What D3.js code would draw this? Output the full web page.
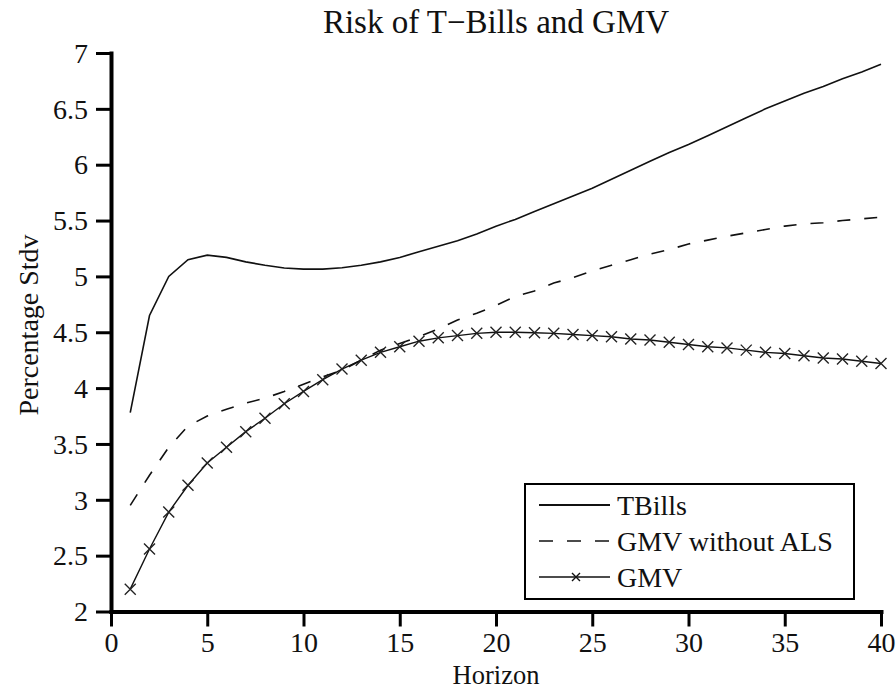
<!DOCTYPE html>
<html>
<head>
<meta charset="utf-8">
<script src="https://cdn.jsdelivr.net/npm/d3@7"></script>
<style>
	body { margin: 0; background: white; }
	svg text { font-family: "Liberation Serif", "DejaVu Serif", serif; fill: #111; }
</style>
</head>
<body>
<div id="chart"></div>
<script>

// Data. Horizon 1..40.
let horizon = d3.range(1, 41);

let tbills = [
	3.78, 4.65, 5.00, 5.15, 5.19, 5.17, 5.13, 5.10, 5.075, 5.065,
	5.065, 5.077, 5.10, 5.13, 5.17, 5.22, 5.27, 5.32, 5.38, 5.45,
	5.51, 5.58, 5.65, 5.72, 5.79, 5.87, 5.95, 6.03, 6.11, 6.18,
	6.26, 6.34, 6.42, 6.50, 6.57, 6.64, 6.70, 6.77, 6.83, 6.90
];

let gmvnoals = [
	2.95, 3.22, 3.47, 3.66, 3.75, 3.81, 3.865, 3.91, 3.97, 4.035,
	4.10, 4.16, 4.25, 4.34, 4.40, 4.46, 4.53, 4.61, 4.67, 4.74,
	4.82, 4.87, 4.94, 4.99, 5.05, 5.10, 5.15, 5.20, 5.24, 5.29,
	5.325, 5.36, 5.39, 5.42, 5.45, 5.47, 5.48, 5.50, 5.515, 5.53
];

let gmv = [
	2.20, 2.56, 2.89, 3.13, 3.33, 3.47, 3.61, 3.73, 3.86, 3.97,
	4.075, 4.17, 4.25, 4.32, 4.37, 4.42, 4.45, 4.47, 4.49, 4.50,
	4.50, 4.495, 4.49, 4.48, 4.47, 4.46, 4.44, 4.43, 4.41, 4.39,
	4.37, 4.36, 4.34, 4.32, 4.31, 4.29, 4.27, 4.26, 4.24, 4.22
];

let xticks = [0, 5, 10, 15, 20, 25, 30, 35, 40];
let yticks = [2, 2.5, 3, 3.5, 4, 4.5, 5, 5.5, 6, 6.5, 7];

let seriesnames = ["TBills", "GMV without ALS", "GMV"];
let titletext = "Risk of T\u2212Bills and GMV";
let xlabeltext = "Horizon";
let ylabeltext = "Percentage Stdv";



let width = 896;
let height = 690;

let svg = d3.select("#chart")
  .append("svg")
	.attr("width", width)
	.attr("height", height)

let x = d3.scaleLinear().domain([0, 40]).range([111, 881]);
let y = d3.scaleLinear().domain([2, 7]).range([611.5, 53]);


// Axes. Only left and bottom, thick lines with outward ticks.
let xaxis = svg.append("g")
	.attr("transform", `translate(0, ${y(2)})`)
	.call(d3.axisBottom(x).tickValues(xticks).tickSize(15).tickSizeOuter(0).tickPadding(8).tickFormat(d=>String(d)))

let yaxis = svg.append("g")
	.attr("transform", `translate(${x(0)}, 0)`)
	.call(d3.axisLeft(y).tickValues(yticks).tickSize(15).tickSizeOuter(0).tickPadding(8).tickFormat(d=>String(d)))

;[xaxis, yaxis].forEach(a=>{
	a.select("path.domain")
	  .attr("stroke", "#000")
	  .attr("stroke-width", 4)
	  .attr("stroke-linecap", "square")
	a.selectAll(".tick line")
	  .attr("stroke", "#000")
	  .attr("stroke-width", 3)
	a.selectAll(".tick text")
	  .attr("font-size", 28)
	  .attr("font-family", null)
	  .attr("fill", null)
}) // forEach

// Baseline of the x tick labels sits around y=653.
xaxis.selectAll(".tick text").attr("y", 19).attr("dy", "0.78em")
yaxis.selectAll(".tick text").attr("dy", "0.33em")



// Lines.
let line = d3.line()
	.x((d,i)=>x(horizon[i]))
	.y(d=>y(d))

svg.append("path")
	.attr("d", line(tbills))
	.attr("fill", "none")
	.attr("stroke", "#111")
	.attr("stroke-width", 1.6)

svg.append("path")
	.attr("d", line(gmvnoals))
	.attr("fill", "none")
	.attr("stroke", "#111")
	.attr("stroke-width", 1.6)
	.attr("stroke-dasharray", "13,14")

svg.append("path")
	.attr("d", line(gmv))
	.attr("fill", "none")
	.attr("stroke", "#111")
	.attr("stroke-width", 1.4)

let cross = "M-5.5,-5.5L5.5,5.5M-5.5,5.5L5.5,-5.5";

svg.append("g")
  .selectAll("path")
  .data(gmv)
  .enter()
  .append("path")
	.attr("d", cross)
	.attr("transform", (d,i)=>`translate(${x(horizon[i])}, ${y(d)})`)
	.attr("stroke", "#222")
	.attr("stroke-width", 1.4)
	.attr("fill", "none")



// Legend box bottom right.
let legend = svg.append("g")

legend.append("rect")
	.attr("x", 525)
	.attr("y", 484)
	.attr("width", 329)
	.attr("height", 115)
	.attr("fill", "white")
	.attr("stroke", "#000")
	.attr("stroke-width", 2)

let rowy = [505, 541, 577];
let dashes = [null, "14,14", null];
let widths = [2.2, 1.6, 1.4];

seriesnames.forEach((name, i)=>{
	legend.append("line")
		.attr("x1", 539)
		.attr("x2", 610)
		.attr("y1", rowy[i])
		.attr("y2", rowy[i])
		.attr("stroke", "#111")
		.attr("stroke-width", widths[i])
		.attr("stroke-dasharray", dashes[i])
	
	legend.append("text")
		.attr("x", 617)
		.attr("y", rowy[i] + 10)
		.attr("font-size", 28)
		.text(name)
}) // forEach

legend.append("path")
	.attr("d", "M-4,-4L4,4M-4,4L4,-4")
	.attr("transform", `translate(576, ${rowy[2]})`)
	.attr("stroke", "#111")
	.attr("stroke-width", 1.4)



// Titles.
svg.append("text")
	.attr("x", 496)
	.attr("y", 33)
	.attr("text-anchor", "middle")
	.attr("font-size", 33)
	.text(titletext)

svg.append("text")
	.attr("x", 496)
	.attr("y", 684)
	.attr("text-anchor", "middle")
	.attr("font-size", 26.5)
	.text(xlabeltext)

svg.append("text")
	.attr("transform", "translate(38, 325) rotate(-90)")
	.attr("text-anchor", "middle")
	.attr("font-size", 28)
	.text(ylabeltext)

</script>
</body>
</html>
